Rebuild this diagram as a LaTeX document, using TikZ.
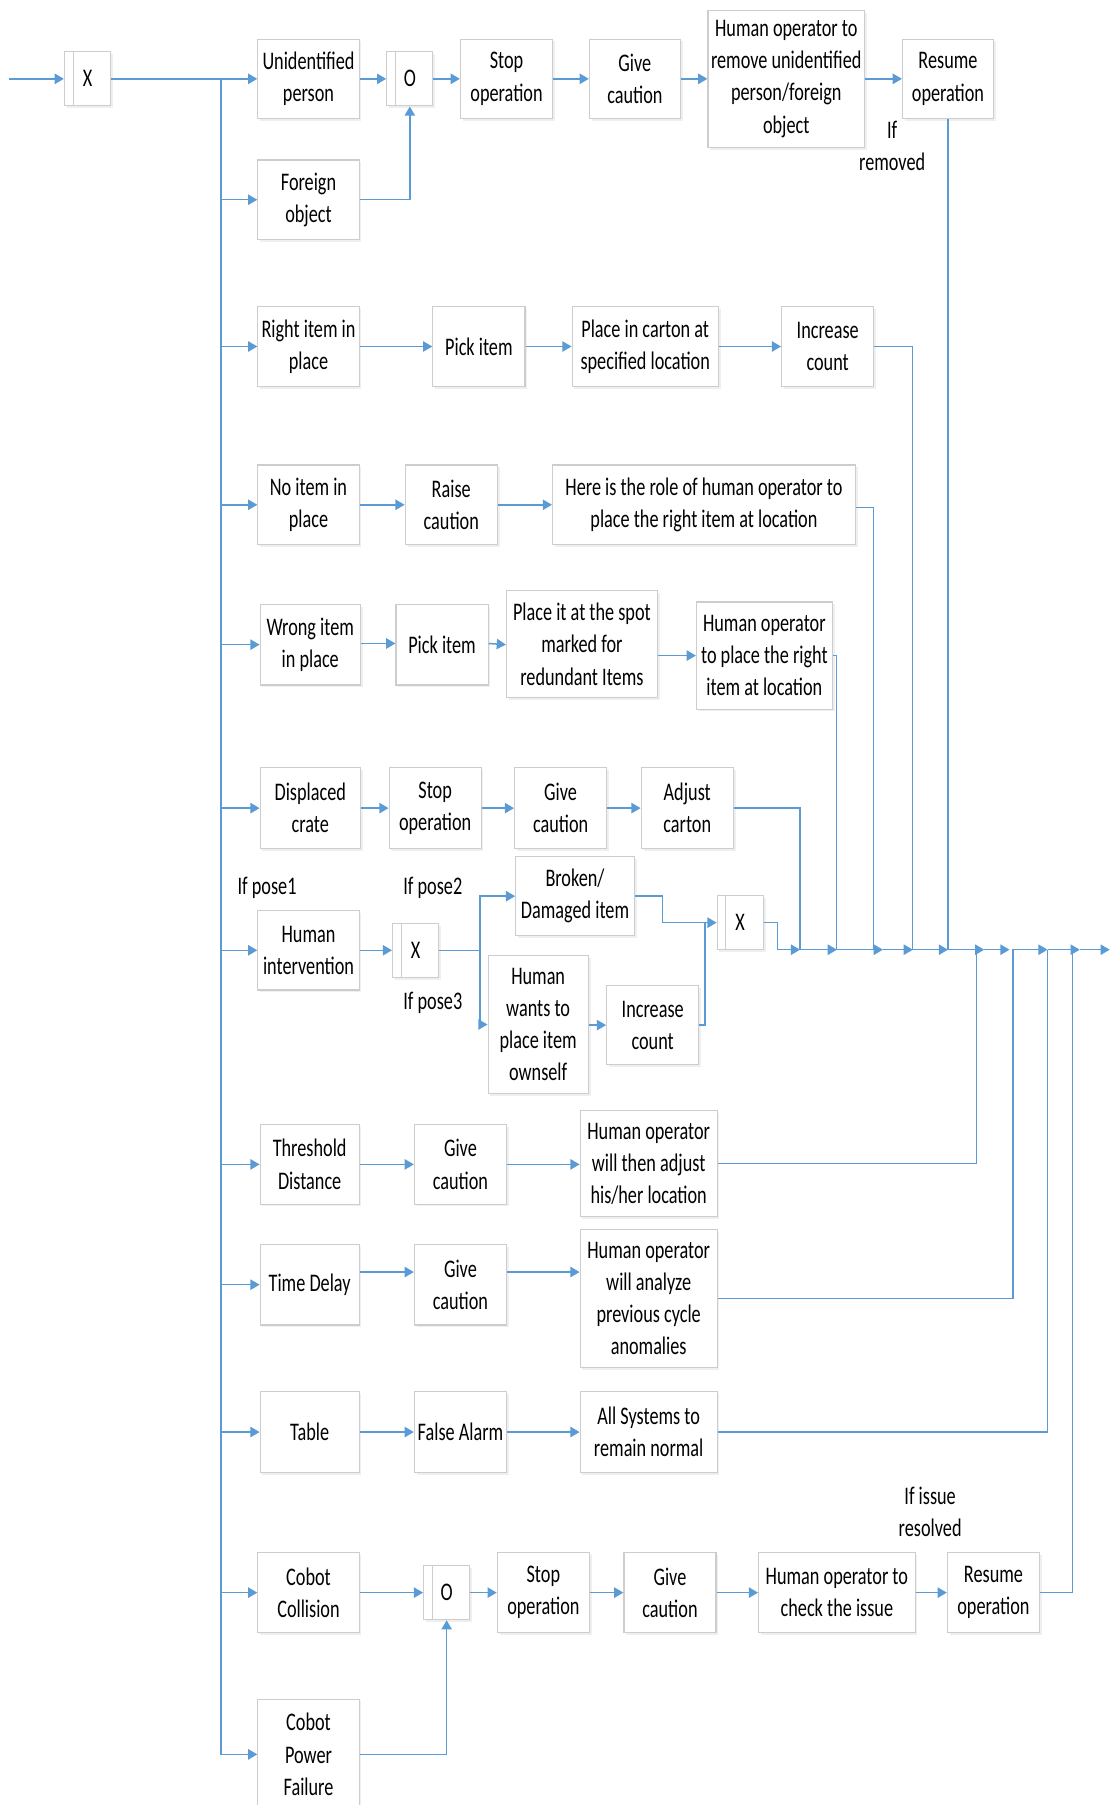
\documentclass[tikz,border=0pt]{standalone}
\usepackage{fontspec}
\setmainfont{Carlito}[FakeStretch=0.72]
\usetikzlibrary{arrows.meta,shadows}
\definecolor{flow}{RGB}{91,155,213}
\definecolor{edge}{RGB}{205,205,205}
\newcommand\blk[6]{\node[box,minimum width=#4pt,minimum height=#5pt] (#1) at (#2,#3) {#6};}
\newcommand\gate[4]{\node[box,minimum width=40pt,minimum height=47pt] (#1) at (#2,#3) {#4};
  \draw[edge,line width=1pt] ([xshift=8pt]#1.north west) -- ([xshift=8pt]#1.south west);}
\begin{document}
\begin{tikzpicture}[x=1pt,y=-1pt,
  box/.style={draw=edge, line width=1pt, fill=white, align=center, inner sep=0pt,
    font=\fontsize{22}{28}\selectfont,
    drop shadow={opacity=0.12, shadow xshift=2pt, shadow yshift=-2pt}},
  lbl/.style={align=center, inner sep=0pt, font=\fontsize{22}{28}\selectfont},
  ln/.style={flow, line width=1.3pt},
  arr/.style={flow, line width=1.3pt, -{Triangle[length=8pt,width=9pt]}}]
\useasboundingbox[fill=white] (0,0) rectangle (965,1568);

% ---- blocks ----
\gate{gx1}{76}{68.5}{X}
\blk{uperson}{268}{68.5}{88}{69}{Unidentified\\person}
\gate{go1}{356}{68.5}{O}
\blk{stop1}{440}{68.5}{80}{69}{Stop\\operation}
\blk{give1}{551.5}{68.5}{79}{69}{Give\\caution}
\blk{hremove}{683}{68.5}{136}{119}{Human operator to\\remove unidentified\\person/foreign\\object}
\blk{resume1}{823.5}{68.5}{79}{69}{Resume\\operation}
\blk{foreign}{268}{173.5}{88}{69}{Foreign\\object}

\blk{rightitem}{268}{301}{88}{69}{Right item in\\place}
\blk{pick1}{416}{301}{80}{69}{Pick item}
\blk{placecarton}{560.5}{301}{127}{69}{Place in carton at\\specified location}
\blk{inc1}{719}{301}{80}{69}{Increase\\count}

\blk{noitem}{268}{438.5}{88}{69}{No item in\\place}
\blk{raise}{392}{438.5}{80}{69}{Raise\\caution}
\blk{role}{611.5}{438.5}{263}{69}{Here is the role of human operator to\\place the right item at location}

\blk{wrong}{269.5}{560}{87}{70}{Wrong item\\in place}
\blk{pick2}{384}{560}{80}{70}{Pick item}
\blk{placeit}{505.5}{559.5}{131}{93}{Place it at the spot\\marked for\\redundant Items}
\blk{hplace}{664}{569.5}{118}{93}{Human operator\\to place the right\\item at location}

\blk{displaced}{269.5}{702}{87}{70}{Displaced\\crate}
\blk{stop2}{378}{702}{80}{70}{Stop\\operation}
\blk{give2}{487}{702}{80}{70}{Give\\caution}
\blk{adjust}{597}{702}{80}{70}{Adjust\\carton}

\blk{humanint}{268}{825.5}{88}{69}{Human\\intervention}
\gate{gx2}{361}{825.5}{X}
\blk{broken}{499.5}{778.5}{103}{69}{Broken/\\Damaged item}
\blk{wants}{467.5}{890}{87}{120}{Human\\wants to\\place item\\ownself}
\blk{inc2}{567}{890.5}{80}{69}{Increase\\count}
\gate{gx3}{643}{801.5}{X}

\blk{threshold}{269}{1011.5}{86}{69}{Threshold\\Distance}
\blk{give3}{400}{1011.5}{80}{69}{Give\\caution}
\blk{hadjust}{563.5}{1011}{119}{92}{Human operator\\will then adjust\\his/her location}

\blk{timedelay}{269}{1116}{86}{70}{Time Delay}
\blk{give4}{400}{1116}{80}{70}{Give\\caution}
\blk{hanalyze}{563.5}{1128}{119}{120}{Human operator\\will analyze\\previous cycle\\anomalies}

\blk{table}{269}{1244}{86}{70}{Table}
\blk{falsealarm}{400}{1244}{80}{70}{False Alarm}
\blk{allsys}{563.5}{1244}{119}{70}{All Systems to\\remain normal}

\blk{collision}{268}{1383.5}{88}{69}{Cobot\\Collision}
\gate{go2}{388}{1383.5}{O}
\blk{stop3}{472}{1383.5}{80}{69}{Stop\\operation}
\blk{give5}{582}{1383.5}{80}{69}{Give\\caution}
\blk{hcheck}{727}{1383.5}{136}{69}{Human operator to\\check the issue}
\blk{resume2}{863}{1383.5}{80}{69}{Resume\\operation}
\blk{powerfail}{268}{1524}{88}{96}{Cobot\\Power\\Failure}

% ---- labels ----
\node[lbl] (lremoved) at (775,126.5) {If\\removed};
\node[lbl] (lpose1) at (232,771) {If pose1};
\node[lbl] (lpose2) at (376,771) {If pose2};
\node[lbl] (lpose3) at (376,871) {If pose3};
\node[lbl] (lresolved) at (808,1313.5) {If issue\\resolved};

% ---- junction points ----
\coordinate (src) at (8,68.5);
\coordinate (lb) at (192,68.5);
\coordinate (fork) at (417,825.5);
\coordinate (b695) at (695,825);
\coordinate (b727) at (727,825);
\coordinate (b759) at (759,825);
\coordinate (b767) at (767,825);
\coordinate (b793) at (793,825);
\coordinate (b823) at (823.5,825);
\coordinate (b848) at (848,825);
\coordinate (b855) at (855,825);
\coordinate (b877) at (877,825);
\coordinate (b880) at (880,825);
\coordinate (b910) at (910,825);
\coordinate (b932) at (932,825);
\coordinate (b938) at (938,825);
\coordinate (out) at (964,825);

% ---- entry and left distribution bus ----
\draw[arr] (src) -- (gx1.west);
\draw[arr] (gx1.east) -- (uperson.west);
\draw[arr] (lb) |- (powerfail.west);
\foreach \n in {foreign,rightitem,noitem,wrong,displaced,humanint,threshold,timedelay,table,collision}
  \draw[arr] (lb |- \n.west) -- (\n.west);

% ---- row connectors ----
\draw[arr] (uperson) -- (go1);
\draw[arr] (go1) -- (stop1);
\draw[arr] (stop1) -- (give1);
\draw[arr] (give1) -- (hremove);
\draw[arr] (hremove) -- (resume1);
\draw[arr] (foreign.east) -| (go1.south);

\draw[arr] (rightitem) -- (pick1);
\draw[arr] (pick1) -- (placecarton);
\draw[arr] (placecarton) -- (inc1);

\draw[arr] (noitem) -- (raise);
\draw[arr] (raise) -- (role);

\draw[arr] ([yshift=1pt]wrong.east) -- ([yshift=1pt]pick2.west);
\draw[arr] ([yshift=1pt]pick2.east) -- (pick2.east -| placeit.west);
\draw[arr] (placeit.east |- hplace.west) -- (hplace.west);

\draw[arr] (displaced) -- (stop2);
\draw[arr] (stop2) -- (give2);
\draw[arr] (give2) -- (adjust);

\draw[arr] (humanint) -- (gx2);
\draw[ln] (gx2.east) -- (fork);
\draw[arr] (fork) |- (broken.west);
\draw[arr] (fork) |- (wants.west);
\draw[arr] (wants.east |- inc2.west) -- (inc2.west);
\draw[arr] (broken.east) -- ++(24,0) |- (gx3.west);
\draw[ln] (inc2.east) -| ([xshift=-10pt]gx3.west);

\draw[arr] (threshold) -- (give3);
\draw[arr] (give3.east) -- (give3.east -| hadjust.west);
\draw[arr] ([yshift=11pt]timedelay.east) -- ([yshift=11pt]give4.west);
\draw[arr] ([yshift=11pt]give4.east) -- ([yshift=11pt]give4.east -| hanalyze.west);
\draw[arr] (table) -- (falsealarm);
\draw[arr] (falsealarm) -- (allsys);

\draw[arr] (collision) -- (go2);
\draw[arr] (go2) -- (stop3);
\draw[arr] (stop3) -- (give5);
\draw[arr] (give5) -- (hcheck);
\draw[arr] (hcheck) -- (resume2);
\draw[arr] (powerfail.east) -| (go2.south);

% ---- right collecting bus ----
\draw[arr] (gx3.east) -- ++(12,0) |- (b695);
\draw[ln] (adjust.east) -| (b695);
\draw[arr] (b695) -- (b727);
\draw[ln, line width=1pt] (hplace.east) -| (b727);
\draw[arr] (b727) -- (b767);
\draw[ln, line width=1pt] ([yshift=-2.5pt]role.east) -| (b759);
\draw[arr] (b767) -- (b793);
\draw[ln, line width=1pt] (inc1.east) -| (b793);
\draw[arr] (b793) -- (b823);
\draw[ln, line width=1pt] (resume1.south) -- (b823);
\draw[arr] (b823) -- (b855);
\draw[ln, line width=1pt] (hadjust.east) -| (b848);
\draw[arr] (b855) -- (b877);
\draw[arr] (hanalyze.east) -| (b880) -- (b910);
\draw[ln, line width=1pt] (allsys.east) -| (b910);
\draw[arr] (b910) -- (b938);
\draw[ln, line width=1pt] (resume2.east) -| (b932);
\draw[arr] (b938) -- (out);
\end{tikzpicture}
\end{document}
